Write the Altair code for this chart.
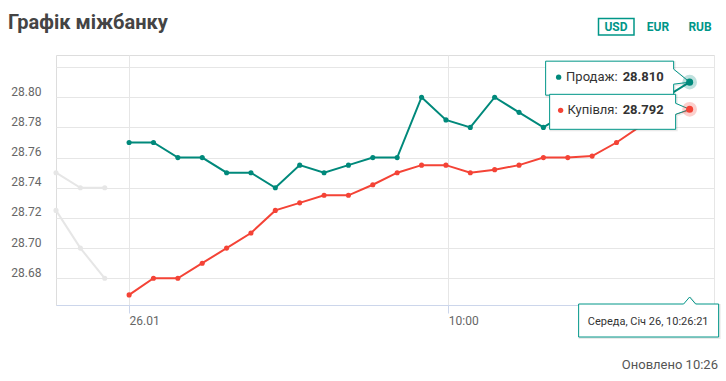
import altair as alt
import pandas as pd

# ---------------- data ----------------
idx_today = list(range(24))
sale = [28.77, 28.77, 28.76, 28.76, 28.75, 28.75, 28.74, 28.755, 28.75, 28.755,
        28.76, 28.76, 28.80, 28.785, 28.78, 28.80, 28.79, 28.78, 28.79, 28.79,
        28.80, 28.80, 28.80, 28.81]
buy = [28.669, 28.68, 28.68, 28.69, 28.70, 28.71, 28.725, 28.73, 28.735, 28.735,
       28.742, 28.75, 28.755, 28.755, 28.75, 28.752, 28.755, 28.76, 28.76, 28.761,
       28.77, 28.781, 28.787, 28.792]
idx_prev = [-3, -2, -1]
prev_sale = [28.75, 28.74, 28.74]
prev_buy = [28.725, 28.70, 28.68]

series_names = ["prev_sale", "prev_buy", "Продаж", "Купівля"]
series_colors = ["#E6E6E6", "#E6E6E6", "#00897B", "#F44336"]

y_ticks = [28.68, 28.70, 28.72, 28.74, 28.76, 28.78, 28.80, 28.82]
y_hidden = [28.82]
x_tick_values = [0, 13.1, 24]
x_tick_labels = ["26.01", "10:00", ""]

title_text = "Графік міжбанку"
currencies = ["USD", "EUR", "RUB"]
updated_text = "Оновлено 10:26"
date_text = "Середа, Січ 26, 10:26:21"

teal = "#009688"

# ---------------- tables ----------------
rows = []
for s, xs, ys in [("prev_sale", idx_prev, prev_sale), ("prev_buy", idx_prev, prev_buy),
                  ("Продаж", idx_today, sale), ("Купівля", idx_today, buy)]:
    for x, y in zip(xs, ys):
        rows.append({"i": x, "v": y, "s": s})
df = pd.DataFrame(rows)

last_sale = pd.DataFrame({"i": [idx_today[-1]], "v": [sale[-1]], "lab": ["Продаж:"]})
last_buy = pd.DataFrame({"i": [idx_today[-1]], "v": [buy[-1]], "lab": ["Купівля:"]})
last_x = pd.DataFrame({"i": [idx_today[-1]], "t": [date_text]})

# ---------------- scales / axes ----------------
label_expr = " : ".join(
    [f"datum.value < {(x_tick_values[k] + x_tick_values[k + 1]) / 2} ? '{x_tick_labels[k]}'"
     for k in range(len(x_tick_values) - 1)] + [f"'{x_tick_labels[-1]}'"])

x_scale = alt.Scale(domain=[-3, 24], nice=False, zero=False)
y_scale = alt.Scale(domain=[28.6623, 28.8280], nice=False, zero=False)

x_axis = alt.Axis(values=x_tick_values, labelExpr=label_expr, grid=True, gridColor="#e6e6e6",
                  domainColor="#ccd6eb", tickColor="#ccd6eb", tickSize=8, labelAlign="left",
                  labelBaseline="top", labelPadding=2, labelFontSize=12, labelColor="#666666",
                  labelFont="Roboto", title=None, labelFlush=False, labelOverlap=False)
hide_expr = " || ".join([f"abs(datum.value - {h}) < 0.001" for h in y_hidden])
y_axis = alt.Axis(values=y_ticks, labelExpr=f"({hide_expr}) ? '' : format(datum.value, '.2f')",
                  grid=True, gridColor="#e6e6e6", domain=False, ticks=False, labelPadding=15,
                  labelFontSize=12, labelColor="#666666", labelFont="Roboto",
                  labelBaseline="alphabetic", labelOffset=-2, title=None, labelOverlap=False)

X = alt.X("i:Q", scale=x_scale, axis=x_axis)
Y = alt.Y("v:Q", scale=y_scale, axis=y_axis)
color = alt.Color("s:N", scale=alt.Scale(domain=series_names, range=series_colors), legend=None)


def path(pts, dx=0, dy=0):
    return "M" + " L".join(f"{x + dx} {y + dy}" for x, y in pts) + " Z"


call1 = [(-144, -21), (-16, -21), (-16, -13), (0, 0), (-16, 2), (-16, 13), (-144, 13)]
call2 = [(-140, -15), (-14, -15), (-14, -6), (0, 0), (-14, 5), (-14, 20), (-140, 20)]
callx = [(-111, -1), (-6, -1), (0, -8), (6, -1), (29, -1), (29, 32), (-111, 32)]

# ---------------- layers ----------------
base = alt.Chart(df)
lines = base.mark_line(strokeWidth=2).encode(x=X, y=Y, color=color, detail="s:N")
points = base.mark_circle(size=26, opacity=1).encode(x=X, y=Y, color=color)


def callout(data, pts, dot_color, dot_dx, dy_text):
    shadow = alt.Chart(data).mark_point(shape=path(pts, 1, 1), size=4, filled=False, stroke="#000000",
                                        strokeWidth=2, opacity=0.08).encode(x=X, y=Y)
    box = alt.Chart(data).mark_point(shape=path(pts), size=4, filled=True, fill="white", stroke=teal,
                                     strokeWidth=1, opacity=1).encode(x=X, y=Y)
    dot = alt.Chart(data).mark_circle(size=28, opacity=1, color=dot_color, xOffset=dot_dx,
                                      yOffset=dy_text).encode(x=X, y=Y)
    lab = alt.Chart(data).mark_text(align="right", baseline="middle", dx=-72, dy=dy_text, fontSize=13,
                                    font="Roboto", color="#333333").encode(x=X, y=Y, text="lab:N")
    val = alt.Chart(data).mark_text(align="left", baseline="middle", dx=-67, dy=dy_text, fontSize=13,
                                    font="Roboto", fontWeight="bold", color="#333333").encode(
        x=X, y=Y, text=alt.Text("v:Q", format=".3f"))
    return [shadow, box, dot, lab, val]


def halo(data, c):
    h = alt.Chart(data).mark_circle(size=217, opacity=0.25, color=c).encode(x=X, y=Y)
    p = alt.Chart(data).mark_circle(size=50, opacity=1, color=c).encode(x=X, y=Y)
    return [h, p]


date_shadow = alt.Chart(last_x).mark_point(shape=path(callx, 1, 1), size=4, filled=False, stroke="#000000",
                                           strokeWidth=2, opacity=0.08).encode(x=X, y=alt.value(250))
date_box = alt.Chart(last_x).mark_point(shape=path(callx), size=4, filled=True, fill="white", stroke=teal,
                                        strokeWidth=1, opacity=1).encode(x=X, y=alt.value(250))
date_lab = alt.Chart(last_x).mark_text(align="center", baseline="middle", dx=-41.5, dy=16.5, fontSize=11,
                                       font="Roboto", color="#333333").encode(x=X, y=alt.value(250), text="t:N")

one = pd.DataFrame({"t": [title_text]})
title = alt.Chart(one).mark_text(align="left", baseline="middle", fontSize=20, fontWeight="bold",
                                 font="Roboto", color="#444444").encode(
    x=alt.value(-48), y=alt.value(-32), text="t:N")

usd_box = alt.Chart(pd.DataFrame({"t": [currencies[0]]})).mark_rect(
    fill="white", stroke=teal, strokeWidth=1.5).encode(
    x=alt.value(542.5), x2=alt.value(578), y=alt.value(-36.5), y2=alt.value(-20))
cur_texts = []
for k, c in enumerate(currencies):
    cur_texts.append(alt.Chart(pd.DataFrame({"t": [c]})).mark_text(
        align="center", baseline="middle", fontSize=12, fontWeight="bold", font="Roboto",
        color=teal).encode(x=alt.value(560 + 42 * k), y=alt.value(-28), text="t:N"))

updated = alt.Chart(pd.DataFrame({"t": [updated_text]})).mark_text(
    align="right", baseline="middle", fontSize=13, font="Roboto", color="#555555").encode(
    x=alt.value(662), y=alt.value(310), text="t:N")

layers = ([lines, points]
          + callout(last_sale, call1, "#00897B", -131, -5)
          + callout(last_buy, call2, "#F44336", -129, 1)
          + halo(last_sale, "#00897B") + halo(last_buy, "#F44336")
          + [date_shadow, date_box, date_lab, title, usd_box] + cur_texts + [updated])

chart = alt.layer(*layers).properties(
    width=658, height=250,
    autosize=alt.AutoSizeParams(type="none"),
    padding={"left": 56, "top": 55, "right": 12, "bottom": 76},
).configure_view(stroke=None).configure(font="Roboto", background="white")

chart.save("out.html", embed_options={"renderer": "svg", "actions": False})
